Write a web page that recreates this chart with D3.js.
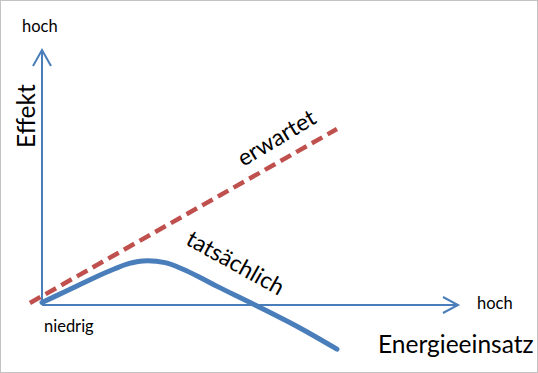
<!DOCTYPE html>
<html><head><meta charset="utf-8">
<script src="https://cdn.jsdelivr.net/npm/d3@7"></script>
<style>
html,body{margin:0;padding:0;background:#fff;}
svg{display:block;}
text{font-family:Lato,"Open Sans",sans-serif;fill:#000;}
</style></head>
<body>
<svg id="chart" width="538" height="373"></svg>
<script>
// Data (x = Energieeinsatz, y = Effekt), qualitative units
const expectedX = [-0.29, 7.09];
const expectedY = [0.08, 6.90];
const actualX = [0, 0.55, 1.27, 1.75, 2.10, 2.43, 2.96, 3.39, 3.80, 4.21, 5.17, 6.20, 7.09];
const actualY = [0.10, 0.52, 1.08, 1.42, 1.63, 1.73, 1.66, 1.40, 1.08, 0.73, -0.04, -0.90, -1.73];
const seriesLabels = ["erwartet", "tatsächlich"];
const xTickLabels = ["niedrig", "hoch"];
const yTickLabels = ["hoch"];
const axisTitles = ["Energieeinsatz", "Effekt"];

const svg = d3.select("#chart");
const W = 538, H = 373;
svg.append("rect").attr("x",0.5).attr("y",0.5).attr("width",W-1).attr("height",H-1)
  .attr("fill","#fff").attr("stroke","#c3c3c3").attr("stroke-width",1);

const x = d3.scaleLinear().domain([0,10]).range([42,458]);
const y = d3.scaleLinear().domain([0,10]).range([305,50]);

const axisColor = "#4a7ebb";
// x axis
svg.append("line").attr("x1",x(0)).attr("y1",y(0)).attr("x2",x(10)).attr("y2",y(0))
  .attr("stroke",axisColor).attr("stroke-width",2);
svg.append("path")
  .attr("d",`M${x(10)-15},${y(0)-8}L${x(10)},${y(0)}L${x(10)-15},${y(0)+8}`)
  .attr("fill","none").attr("stroke",axisColor).attr("stroke-width",2);
// y axis
svg.append("line").attr("x1",x(0)).attr("y1",y(0)).attr("x2",x(0)).attr("y2",y(10))
  .attr("stroke",axisColor).attr("stroke-width",2);
svg.append("path")
  .attr("d",`M${x(0)-9},${y(10)+16}L${x(0)},${y(10)}L${x(0)+9},${y(10)+16}`)
  .attr("fill","none").attr("stroke",axisColor).attr("stroke-width",2);

// expected (dashed)
const expData = expectedX.map((v,i)=>[v,expectedY[i]]);
svg.append("path").datum(expData)
  .attr("d",d3.line().x(d=>x(d[0])).y(d=>y(d[1])))
  .attr("fill","none").attr("stroke","#c0504d").attr("stroke-width",4.5)
  .attr("stroke-dasharray","12,6");

// actual (solid curve)
const actData = actualX.map((v,i)=>[v,actualY[i]]);
svg.append("path").datum(actData)
  .attr("d",d3.line().curve(d3.curveCatmullRom.alpha(0.5)).x(d=>x(d[0])).y(d=>y(d[1])))
  .attr("fill","none").attr("stroke","#4a7ebb").attr("stroke-width",5)
  .attr("stroke-linecap","round");

// tick labels
svg.append("text").attr("x",44).attr("y",332).attr("font-size",16.5).text(xTickLabels[0]);
svg.append("text").attr("x",477).attr("y",309).attr("font-size",16.5).text(xTickLabels[1]);
svg.append("text").attr("x",22).attr("y",32).attr("font-size",16.5).text(yTickLabels[0]);

// axis titles
svg.append("text").attr("x",378).attr("y",353).attr("font-size",24.5).text(axisTitles[0]);
svg.append("text").attr("transform","translate(35,148) rotate(-90)").attr("font-size",24.5).text(axisTitles[1]);

// series labels
svg.append("text").attr("transform","translate(276,137) rotate(-31)")
  .attr("text-anchor","middle").attr("dominant-baseline","central").attr("font-size",23).text(seriesLabels[0]);
svg.append("text").attr("transform","translate(236,262) rotate(29)")
  .attr("text-anchor","middle").attr("dominant-baseline","central").attr("font-size",23).text(seriesLabels[1]);
</script>
</body></html>
